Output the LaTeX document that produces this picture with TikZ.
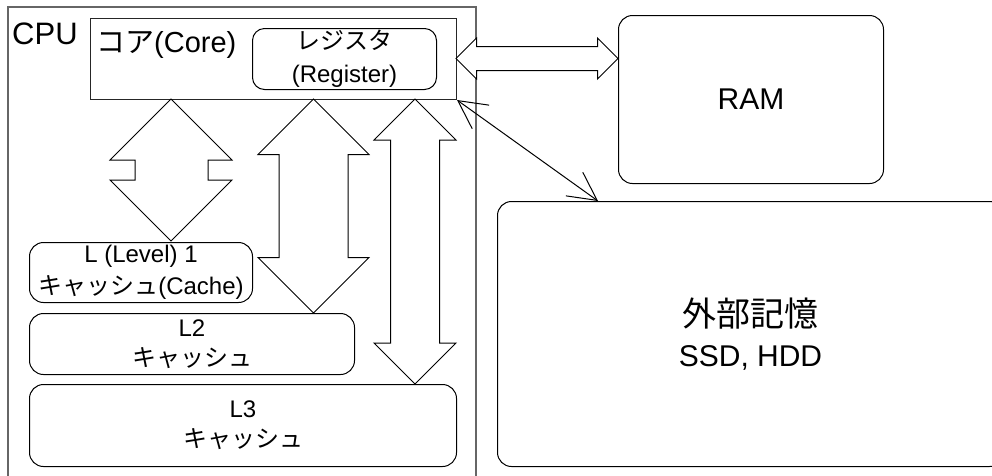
\documentclass[tikz,border=0pt]{standalone}
\usepackage{fontspec}
\setmainfont{Liberation Sans}
\newfontfamily\jp{Noto Sans CJK JP}
\usetikzlibrary{arrows.meta}
\begin{document}
\begin{tikzpicture}[x=1pt,y=-1pt,
  box/.style={draw=black, line width=1pt, rounded corners=14pt, anchor=north west,
              inner sep=0pt, align=center},
  fat/.style={draw=black, line width=1pt, fill=white, line join=miter},
  link/.style={draw=black, line width=1pt,
               {Straight Barb[length=28pt,width=29pt]}-{Straight Barb[length=28pt,width=29pt]}},
  lbl/.style={font=\fontsize{24}{30}\selectfont}]
\useasboundingbox (0,0) rectangle (992,475);
\fill[white] (0,0) rectangle (992,475);

% CPU frame
\draw[black!60, line width=1.6pt] (8,480) -- (8,7) -- (476,7) -- (476,480);
\node[anchor=west, inner sep=0pt, font=\fontsize{31}{32}\selectfont] (cpu) at (12,34) {CPU};

% Core
\node[draw=black!85, line width=1pt, anchor=north west, minimum width=366pt,
      minimum height=81pt, inner sep=0pt] (core) at (90,18) {};
\node[anchor=west, inner sep=0pt, font=\fontsize{29}{30}\selectfont] (coretxt) at (96,45) {{\jp コア}(Core)};

% Register
\node[box, rounded corners=12pt, minimum width=184pt, minimum height=61pt,
      font=\fontsize{24}{33}\selectfont] (reg) at (252,28) {{\jp レジスタ}\\(Register)};

% Caches
\node[box, font=\fontsize{24}{32}\selectfont, minimum width=223pt, minimum height=60pt] (l1) at (29,242)
  {L (Level) 1\\{\jp キャッシュ}(Cache)};
\node[box, lbl, minimum width=325pt, minimum height=61pt] (l2) at (29,313)
  {L2\\{\jp キャッシュ}};
\node[box, lbl, minimum width=427pt, minimum height=82pt] (l3) at (29,384)
  {L3\\{\jp キャッシュ}};

% RAM and storage
\node[box, minimum width=265pt, minimum height=168pt, font=\fontsize{30}{36}\selectfont] (ram) at (618,15) {RAM};
\node[box, minimum width=506pt, minimum height=265pt, font=\fontsize{30}{40}\selectfont] (ssd) at (497,201)
  {{\jp\fontsize{34}{40}\selectfont 外部記憶}\\SSD, HDD};

% fat arrows
\draw[fat] (171,99) -- (232,160) -- (208,160) -- (208,180) -- (232,180) -- (171,241)
  -- (110,180) -- (135,180) -- (135,160) -- (110,160) -- cycle;
\draw[fat] (313.5,99) -- (369,154.5) -- (348,154.5) -- (348,257.5) -- (369,257.5) -- (313.5,313)
  -- (258,257.5) -- (279,257.5) -- (279,154.5) -- (258,154.5) -- cycle;
\draw[fat] (415,99) -- (456,140) -- (439.5,140) -- (439.5,343) -- (456,343) -- (415,384)
  -- (374,343) -- (390.5,343) -- (390.5,140) -- (374,140) -- cycle;
\draw[fat] (456,58.5) -- (476.5,38) -- (476.5,46.5) -- (597.5,46.5) -- (597.5,38) -- (618,58.5)
  -- (597.5,79) -- (597.5,70.5) -- (476.5,70.5) -- (476.5,79) -- cycle;

% thin double arrow core <-> storage
\coordinate (ssdin) at ([xshift=101pt]ssd.north west);
\draw[link] (core.south east) -- (ssdin);
\end{tikzpicture}
\end{document}
